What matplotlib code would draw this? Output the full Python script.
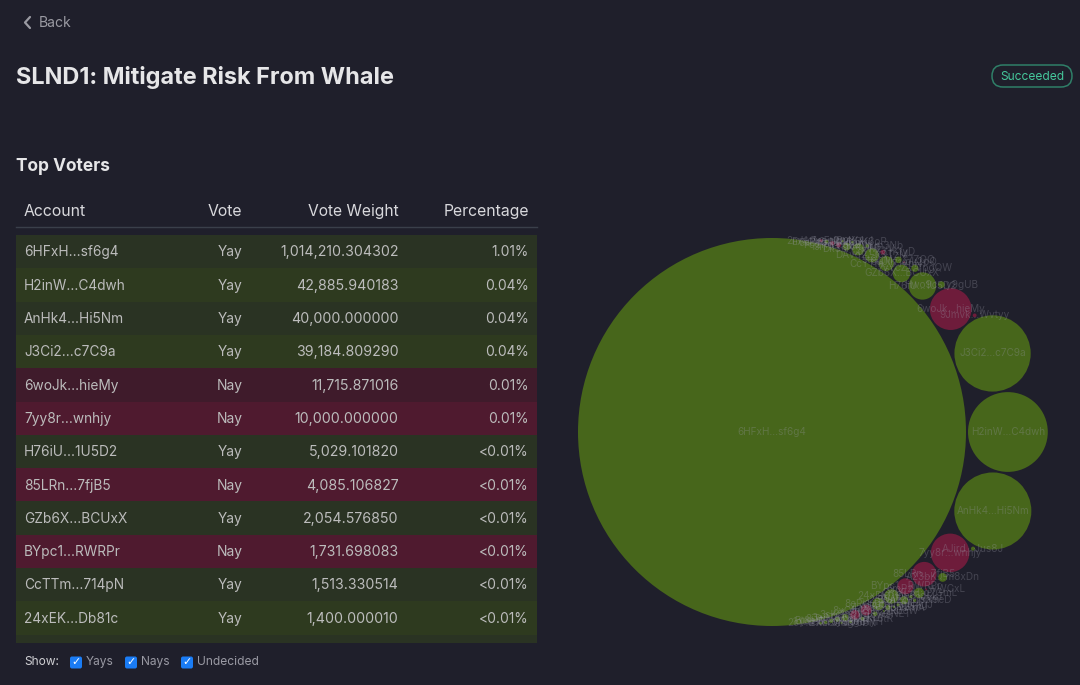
import math
import matplotlib
matplotlib.use("Agg")
import matplotlib.pyplot as plt
from matplotlib.patches import Circle, FancyBboxPatch, Rectangle

plt.rcParams['font.family'] = ['Inter', 'DejaVu Sans']

# ---- data ----
accounts = ["6HFxH...sf6g4", "H2inW...C4dwh", "AnHk4...Hi5Nm", "J3Ci2...c7C9a", "6woJk...hieMy",
            "7yy8r...wnhjy", "H76iU...1U5D2", "85LRn...7fjB5", "GZb6X...BCUxX", "BYpc1...RWRPr",
            "CcTTm...714pN", "24xEK...Db81c"]
votes = ["Yay", "Yay", "Yay", "Yay", "Nay", "Nay", "Yay", "Nay", "Yay", "Nay", "Yay", "Yay"]
weights = [1014210.304302, 42885.940183, 40000.000000, 39184.809290, 11715.871016, 10000.000000,
           5029.101820, 4085.106827, 2054.576850, 1731.698083, 1513.330514, 1400.000010]
percentages = ["1.01%", "0.04%", "0.04%", "0.04%", "0.01%", "0.01%", "<0.01%", "<0.01%", "<0.01%",
               "<0.01%", "<0.01%", "<0.01%"]

# Smaller accounts that appear only in the bubble pack (estimated from circle sizes)
extra_accounts = ["DAvq2...k9TzM", "8eRt1...m3Hq7", "Dk3sP...vWzyV", "8xQn4...tP2Ls", "GmXLa...q7GmL",
                  "3sKfN...Vd8wZ", "A23bK...m8xDn", "2pWaE...jupbm", "9rFhT...c4Jkd", "7vYcZ...VpgQW",
                  "3e9Tk...hJ2kL", "Hwo9c...y9gUB", "5tGhM...Z7ZQQ", "4zXcV...bN7mA", "Fq2Rd...gh8Vk",
                  "3jTyN...x5Ukr", "Cd7Lk...rKtyD", "4nBxS...wsNET", "5aDfG...Plqbw", "AJird...Jus8J",
                  "Bt8eW...9Qsmp", "9Jmvk...Wvtyy", "Ex4Pa...hN2cD", "7kLoI...zY6tR", "1qWeR...tyU8i",
                  "Gh5Jk...Lm3Nb", "8sDfG...hJ5kT", "3qAzW...sX9eD", "6tGbY...hN4uJ", "2mKoL...pI8uY",
                  "5rFvT...gB1yH", "2cVnH...r0fog", "9nJuM...iK3oP", "Ac6Sd...fG5hJ", "7wEr2...tY4uI",
                  "1zXsC...dV6bN", "4hYtG...fR3eW", "6mPzU...wWCxL", "8uJiK...oL2pQ"]
extra_votes = ["Yay", "Yay", "Yay", "Nay", "Yay", "Nay", "Yay", "Yay", "Yay", "Yay",
               "Yay", "Yay", "Yay", "Yay", "Nay", "Yay", "Nay", "Yay", "Nay", "Yay",
               "Yay", "Nay", "Yay", "Yay", "Yay", "Yay", "Yay", "Yay", "Yay", "Nay",
               "Yay", "Yay", "Yay", "Yay", "Yay", "Yay", "Yay", "Nay", "Nay"]
extra_weights = [1300, 1000, 960, 800, 700, 600, 520, 430, 400, 340,
                 320, 300, 290, 170, 165, 160, 150, 140, 120, 110,
                 108, 100, 95, 90, 85, 80, 75, 70, 65, 60,
                 55, 50, 45, 40, 30, 26, 24, 22, 20]

COL = {"Yay": "#47661b", "Nay": "#6e1c3b"}
ROW = {("Yay", 0): "#2a3323", ("Yay", 1): "#2e3a1f", ("Nay", 0): "#3f1b2b", ("Nay", 1): "#4f1a2f"}
BG = "#1f1f2b"
PAD = 1.0


# ---- circle packing (front-chain) ----
class C:
    def __init__(self, r):
        self.r, self.x, self.y = r, 0.0, 0.0


class N:
    def __init__(self, c):
        self.c, self.next, self.prev = c, None, None


def place(b, a, c):
    dx, dy = b.x - a.x, b.y - a.y
    d2 = dx * dx + dy * dy
    a2 = (a.r + c.r) ** 2
    b2 = (b.r + c.r) ** 2
    if a2 > b2:
        x = (d2 + b2 - a2) / (2 * d2)
        y = math.sqrt(max(0, b2 / d2 - x * x))
        c.x, c.y = b.x - x * dx - y * dy, b.y - x * dy + y * dx
    else:
        x = (d2 + a2 - b2) / (2 * d2)
        y = math.sqrt(max(0, a2 / d2 - x * x))
        c.x, c.y = a.x + x * dx - y * dy, a.y + x * dy + y * dx


def hit(a, b):
    dr = a.r + b.r - 1e-6
    return dr > 0 and dr * dr > (b.x - a.x) ** 2 + (b.y - a.y) ** 2


def score(n):
    a, b = n.c, n.next.c
    ab = a.r + b.r
    return ((a.x * b.r + b.x * a.r) / ab) ** 2 + ((a.y * b.r + b.y * a.r) / ab) ** 2


def pack(cs):
    a, b = cs[0], cs[1]
    a.x, b.x = -b.r, a.r
    place(b, a, cs[2])
    a, b, c = N(a), N(b), N(cs[2])
    a.next = c.prev = b
    b.next = a.prev = c
    c.next = b.prev = a
    i = 3
    while i < len(cs):
        place(a.c, b.c, cs[i])
        c = N(cs[i])
        j, k, sj, sk = b.next, a.prev, b.c.r, a.c.r
        retry = False
        while True:
            if sj <= sk:
                if hit(j.c, c.c):
                    b = j
                    a.next, b.prev = b, a
                    retry = True
                    break
                sj += j.c.r
                j = j.next
            else:
                if hit(k.c, c.c):
                    a = k
                    a.next, b.prev = b, a
                    retry = True
                    break
                sk += k.c.r
                k = k.prev
            if j is k.next:
                break
        if retry:
            continue
        c.prev, c.next = a, b
        a.next = b.prev = c
        b = c
        aa = score(a)
        c = c.next
        while c is not b:
            ca = score(c)
            if ca < aa:
                a, aa = c, ca
            c = c.next
        b = a.next
        i += 1


all_names = accounts + extra_accounts
all_votes = votes + extra_votes
all_weights = weights + extra_weights
scale = 194 / math.sqrt(all_weights[0])
circles = [C(scale * math.sqrt(w) + PAD) for w in all_weights]
pack(circles)
ox, oy = 772 - circles[0].x, 432 - circles[0].y

# ---- figure ----
fig = plt.figure(figsize=(10.8, 6.85), dpi=100, facecolor=BG)
ax = fig.add_axes([0, 0, 1, 1])
ax.set_xlim(0, 1080)
ax.set_ylim(685, 0)
ax.axis("off")


def px(s):
    return s * 0.72


# header chrome
ax.plot([30, 25, 30], [17, 22.5, 28], color="#9a9aa2", lw=1.6, solid_capstyle="round")
ax.text(39, 23, "Back", color="#9a9aa2", fontsize=px(14), va="center")
ax.text(16, 77, "SLND1: Mitigate Risk From Whale", color="#e6e6e8", fontsize=px(23.5),
        fontweight="bold", va="center")
ax.add_patch(FancyBboxPatch((992, 65), 80, 22, boxstyle="round,pad=0,rounding_size=11",
                            fc=BG, ec="#2f7f68", lw=1.1))
ax.text(1032, 76.5, "Succeeded", color="#45c79b", fontsize=px(12), ha="center", va="center")
ax.text(16, 166, "Top Voters", color="#e6e6e8", fontsize=px(17.3), fontweight="bold", va="center")

# table
ax.text(24, 211, "Account", color="#d8d8dc", fontsize=px(15.8), va="center")
ax.text(242.5, 211, "Vote", color="#d8d8dc", fontsize=px(15.8), va="center", ha="right")
ax.text(398.5, 211, "Vote Weight", color="#d8d8dc", fontsize=px(15.6), va="center", ha="right")
ax.text(529, 211, "Percentage", color="#d8d8dc", fontsize=px(15.8), va="center", ha="right")
ax.plot([16, 537], [227, 227], color="#3a3f4a", lw=1)

row_h = 33.3
top = 235
for i, (acc, v, w, p) in enumerate(zip(accounts, votes, weights, percentages)):
    y = top + i * row_h
    ax.add_patch(Rectangle((16, y), 521, row_h, fc=ROW[(v, i % 2)], ec="none"))
    yc = y + row_h / 2 + 0.8
    ax.text(24, yc, acc, color="#bcbcbc", fontsize=px(13.7), va="center")
    ax.text(242.5, yc, v, color="#bcbcbc", fontsize=px(13.8), va="center", ha="right")
    ax.text(398.5, yc, f"{w:,.6f}", color="#bcbcbc", fontsize=px(14.2), va="center", ha="right")
    ax.text(528.5, yc, p, color="#bcbcbc", fontsize=px(13.8), va="center", ha="right")
ax.add_patch(Rectangle((16, top + 12 * row_h), 521, 643 - top - 12 * row_h, fc=ROW[("Yay", 0)], ec="none"))

# show toggles
ax.text(24, 662, "Show:", color="#d0d0d4", fontsize=px(12), va="center")
for bx, tx, lab in [(70, 86, "Yays"), (125, 141, "Nays"), (181, 197, "Undecided")]:
    ax.add_patch(FancyBboxPatch((bx, 656.5), 12, 12, boxstyle="round,pad=0,rounding_size=2",
                                fc="#1a7cf5", ec="none"))
    ax.text(bx + 6, 662.5, "\u2713", color="white", fontsize=px(11), ha="center", va="center",
            family="DejaVu Sans", fontweight="bold")
    ax.text(tx, 662, lab, color="#9a9aa4", fontsize=px(12), va="center")

# bubbles
for c, v in zip(circles, all_votes):
    ax.add_patch(Circle((c.x + ox, c.y + oy), c.r - PAD, fc=COL[v], ec="none", zorder=3))
for c, name in zip(circles, all_names):
    ax.text(c.x + ox, c.y + oy, name, color="#9a9aa8", alpha=0.3, fontsize=px(10),
            ha="center", va="center", zorder=4)

fig.savefig("out.png", dpi=100, facecolor=BG)
